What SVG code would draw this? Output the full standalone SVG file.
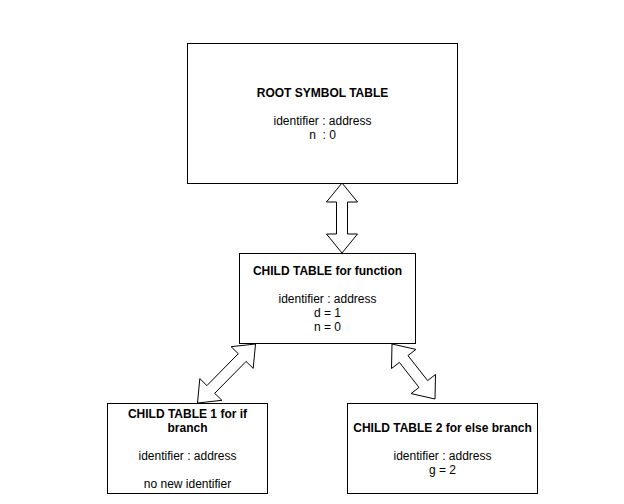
<svg xmlns="http://www.w3.org/2000/svg" width="624" height="504" viewBox="0 0 624 504">
<style>
.box{fill:#fff;stroke:#000;stroke-width:1}
.arr{fill:#fff;stroke:#000;stroke-width:1;stroke-linejoin:miter}
text{font-family:"Liberation Sans",Arial,sans-serif;font-size:12px;fill:#000;text-anchor:middle}
.b{font-weight:bold}
.pre{white-space:pre}
</style>
<rect width="624" height="504" fill="#fff"/>
<g id="connectors">
<polygon class="arr" points="342,183 326.5,202 336.5,202 336.5,234 326.5,234 342,253 357.5,234 347.5,234 347.5,202 357.5,202"/>
<polygon class="arr" points="255.5,344 231.1,346.7 238.3,353.7 206.9,385.6 199.8,378.6 197.5,403 221.9,400.3 214.7,393.3 246.1,361.4 253.2,368.4"/>
<polygon class="arr" points="392,344 391.5,368.5 399.4,362.4 419,387.4 411.1,393.6 435,399 435.5,374.5 427.6,380.6 408,355.6 415.9,349.4"/>
</g>
<g id="root">
<rect class="box" x="187.5" y="43.5" width="270" height="140"/>
<text class="b" x="322.5" y="97">ROOT SYMBOL TABLE</text>
<text x="322.5" y="125">identifier : address</text>
<text class="pre" x="322.5" y="139" xml:space="preserve">n  : 0</text>
</g>
<g id="func">
<rect class="box" x="239.5" y="253.5" width="176" height="90"/>
<text class="b" x="327.5" y="275">CHILD TABLE for function</text>
<text x="327.5" y="303">identifier : address</text>
<text x="327.5" y="317">d = 1</text>
<text x="327.5" y="331">n = 0</text>
</g>
<g id="ifbranch">
<rect class="box" x="107.5" y="403.5" width="160" height="90"/>
<text class="b" x="187.5" y="418">CHILD TABLE 1 for if</text>
<text class="b" x="187.5" y="432">branch</text>
<text x="187.5" y="460">identifier : address</text>
<text x="187.5" y="488">no new identifier</text>
</g>
<g id="elsebranch">
<rect class="box" x="347.5" y="403.5" width="190" height="90"/>
<text class="b" x="442.5" y="432">CHILD TABLE 2 for else branch</text>
<text x="442.5" y="460">identifier : address</text>
<text x="442.5" y="474">g = 2</text>
</g>
</svg>
